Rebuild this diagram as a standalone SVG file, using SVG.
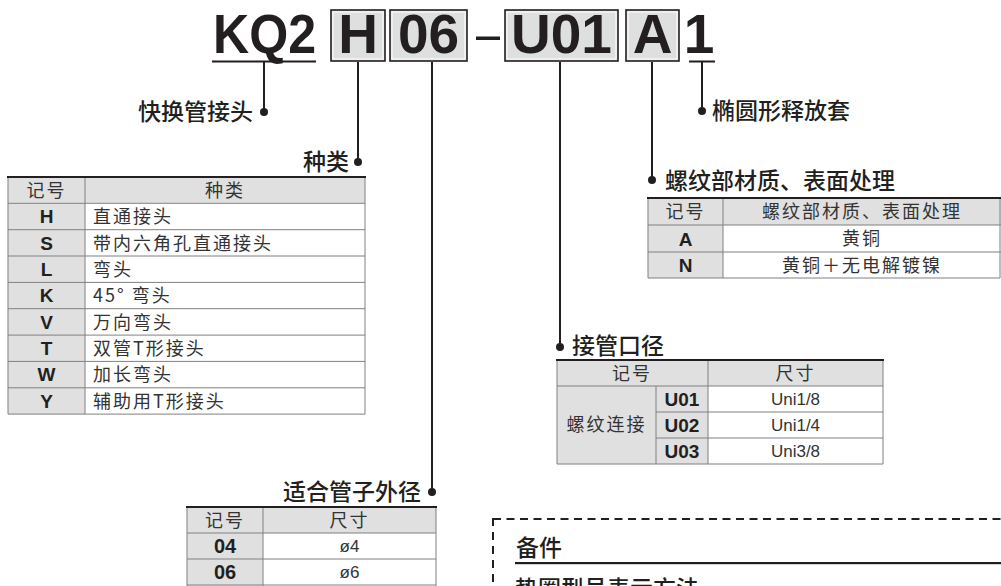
<svg xmlns="http://www.w3.org/2000/svg" width="1001" height="586" viewBox="0 0 1001 586">
<style>
.cjk{font-family:"Noto Sans CJK SC","Noto Sans",sans-serif;fill:#231f20}
.lbl{font-size:23px;font-weight:500}
.th{font-size:18px;letter-spacing:2px;fill:#333}
.td{font-size:18px;letter-spacing:2px;fill:#333}
.b{font-family:"Liberation Sans",Arial,sans-serif;font-weight:bold;fill:#231f20}
.sz{font-family:"Liberation Sans",Arial,sans-serif;font-size:17px;fill:#333}
.big{font-family:"Liberation Sans",Arial,sans-serif;font-weight:bold;font-size:55px;fill:#231f20}
.grey{fill:#e0e0e0}
.white{fill:#fff}
.grid{stroke:#808080;stroke-width:1;fill:none}
.top{stroke:#231f20;stroke-width:2.2}
.lead{stroke:#231f20;stroke-width:2;fill:none}
.dot{fill:#231f20}
.box{fill:#dedfdf;stroke:#231f20;stroke-width:1.6}
.boxin{fill:none;stroke:#fff;stroke-width:1}
.mid{text-anchor:middle}
.end{text-anchor:end}
</style>

<g id="title">
  <text class="big" x="213" y="53" textLength="103" lengthAdjust="spacingAndGlyphs">KQ2</text>
  <rect x="212" y="60.5" width="104" height="2" fill="#231f20"/>
  <rect class="box" x="331" y="10" width="54" height="51"/>
  <rect class="boxin" x="333" y="12" width="50" height="47"/>
  <text class="big mid" x="358" y="53">H</text>
  <rect class="box" x="390" y="10" width="77" height="51"/>
  <rect class="boxin" x="392" y="12" width="73" height="47"/>
  <text class="big mid" x="428.5" y="53">06</text>
  <rect x="476" y="36.5" width="24" height="3.5" fill="#231f20"/>
  <rect class="box" x="505" y="10" width="113" height="51"/>
  <rect class="boxin" x="507" y="12" width="109" height="47"/>
  <text class="big mid" x="561.5" y="53">U01</text>
  <rect class="box" x="626" y="10" width="53" height="51"/>
  <rect class="boxin" x="628" y="12" width="49" height="47"/>
  <text class="big mid" x="652.5" y="53">A</text>
  <text class="big mid" x="699" y="53">1</text>
  <rect x="689" y="60.5" width="26" height="2" fill="#231f20"/>
</g>

<g id="connectors">
  <path class="lead" d="M264 62V112"/>
  <circle class="dot" cx="264" cy="112" r="4"/>
  <path class="lead" d="M358 62V162"/>
  <circle class="dot" cx="358" cy="162" r="4"/>
  <path class="lead" d="M432 62V492"/>
  <circle class="dot" cx="432" cy="492" r="4"/>
  <path class="lead" d="M560 62V347"/>
  <circle class="dot" cx="560" cy="347" r="4"/>
  <path class="lead" d="M652 62V180"/>
  <circle class="dot" cx="652" cy="180" r="4"/>
  <path class="lead" d="M702 62V111"/>
  <circle class="dot" cx="702" cy="111" r="4"/>
</g>

<g id="label-kq2">
  <text class="cjk lbl end" x="253" y="120">快换管接头</text>
</g>

<g id="node-kind">
  <text class="cjk lbl end" x="349" y="170">种类</text>
  <rect class="grey" x="8" y="177" width="357" height="26.3"/>
  <rect class="grey" x="8" y="203.3" width="77" height="210.8"/>
  <rect class="white" x="85" y="203.3" width="280" height="210.8"/>
  <path class="grid" d="M8 177V414.1H365V177M85 177V414.1M8 203.3H365M8 229.7H365M8 256H365M8 282.4H365M8 308.7H365M8 335.1H365M8 361.4H365M8 387.8H365"/>
  <path class="top" d="M7 177H366"/>
  <text class="cjk th mid" x="46.5" y="197">记号</text>
  <text class="cjk th mid" x="225" y="197">种类</text>
  <g class="b" font-size="19" text-anchor="middle">
    <text x="46.5" y="223">H</text>
    <text x="46.5" y="249.5">S</text>
    <text x="46.5" y="275.8">L</text>
    <text x="46.5" y="302.2">K</text>
    <text x="46.5" y="328.5">V</text>
    <text x="46.5" y="354.9">T</text>
    <text x="46.5" y="381.2">W</text>
    <text x="46.5" y="407.6">Y</text>
  </g>
  <g class="cjk td">
    <text x="93" y="223">直通接头</text>
    <text x="93" y="249.5">带内六角孔直通接头</text>
    <text x="93" y="275.8">弯头</text>
    <text x="93" y="302.2">45° 弯头</text>
    <text x="93" y="328.5">万向弯头</text>
    <text x="93" y="354.9">双管T形接头</text>
    <text x="93" y="381.2">加长弯头</text>
    <text x="93" y="407.6">辅助用T形接头</text>
  </g>
</g>

<g id="node-release">
  <text class="cjk lbl" x="712" y="119">椭圆形释放套</text>
</g>

<g id="node-material">
  <text class="cjk lbl" x="665" y="189">螺纹部材质、表面处理</text>
  <rect class="grey" x="648" y="198" width="353" height="27"/>
  <rect class="grey" x="648" y="225" width="75" height="53"/>
  <rect class="white" x="723" y="225" width="278" height="53"/>
  <path class="grid" d="M648 198V278H1000V198M723 198V278M648 225H1001M648 252H1001"/>
  <path class="top" d="M647 198H1001"/>
  <text class="cjk th mid" x="685.5" y="218">记号</text>
  <text class="cjk th mid" x="862" y="218">螺纹部材质、表面处理</text>
  <text class="b mid" font-size="19" x="685.5" y="245.5">A</text>
  <text class="b mid" font-size="19" x="685.5" y="272">N</text>
  <text class="cjk td mid" x="862" y="245">黄铜</text>
  <text class="cjk td mid" x="862" y="271.5">黄铜＋无电解镀镍</text>
</g>

<g id="node-port">
  <text class="cjk lbl" x="572" y="354">接管口径</text>
  <rect class="grey" x="557" y="360" width="326" height="26"/>
  <rect class="grey" x="557" y="386" width="151" height="78"/>
  <rect class="white" x="708" y="386" width="175" height="78"/>
  <path class="grid" d="M557 360V464H883V360M656 386V464M708 360V464M557 386H883M656 412H883M656 438H883"/>
  <path class="top" d="M556 360H884"/>
  <text class="cjk th mid" x="632" y="380">记号</text>
  <text class="cjk th mid" x="795.5" y="380">尺寸</text>
  <text class="cjk td mid" x="606.5" y="431">螺纹连接</text>
  <g class="b" font-size="19" text-anchor="middle">
    <text x="682" y="405.5">U01</text>
    <text x="682" y="431.5">U02</text>
    <text x="682" y="457.5">U03</text>
  </g>
  <g class="sz" text-anchor="middle">
    <text x="795.5" y="405">Uni1/8</text>
    <text x="795.5" y="431">Uni1/4</text>
    <text x="795.5" y="457">Uni3/8</text>
  </g>
</g>

<g id="node-tube">
  <text class="cjk lbl end" x="421" y="500">适合管子外径</text>
  <rect class="grey" x="187" y="507" width="249" height="26"/>
  <rect class="grey" x="187" y="533" width="76" height="53"/>
  <rect class="white" x="263" y="533" width="173" height="53"/>
  <path class="grid" d="M187 507V586M436 507V586M263 507V586M187 533H436M187 559H436M187 585H436"/>
  <path class="top" d="M186 507H437"/>
  <text class="cjk th mid" x="225" y="527">记号</text>
  <text class="cjk th mid" x="349.5" y="527">尺寸</text>
  <text class="b mid" font-size="20" x="225" y="553">04</text>
  <text class="b mid" font-size="20" x="225" y="579">06</text>
  <text class="sz mid" font-size="16" x="349.5" y="552" fill="#444">ø4</text>
  <text class="sz mid" font-size="16" x="349.5" y="578" fill="#444">ø6</text>
</g>

<g id="node-spare">
  <path d="M493 519H1001" stroke="#231f20" stroke-width="2" stroke-dasharray="8 5.5" fill="none"/>
  <path d="M493 518V586" stroke="#231f20" stroke-width="2" stroke-dasharray="8 6" fill="none"/>
  <text class="cjk lbl" x="516" y="556">备件</text>
  <rect x="515" y="562" width="486" height="2.2" fill="#231f20"/>
  <text class="cjk lbl" x="515" y="597">垫圈型号表示方法</text>
</g>
</svg>
